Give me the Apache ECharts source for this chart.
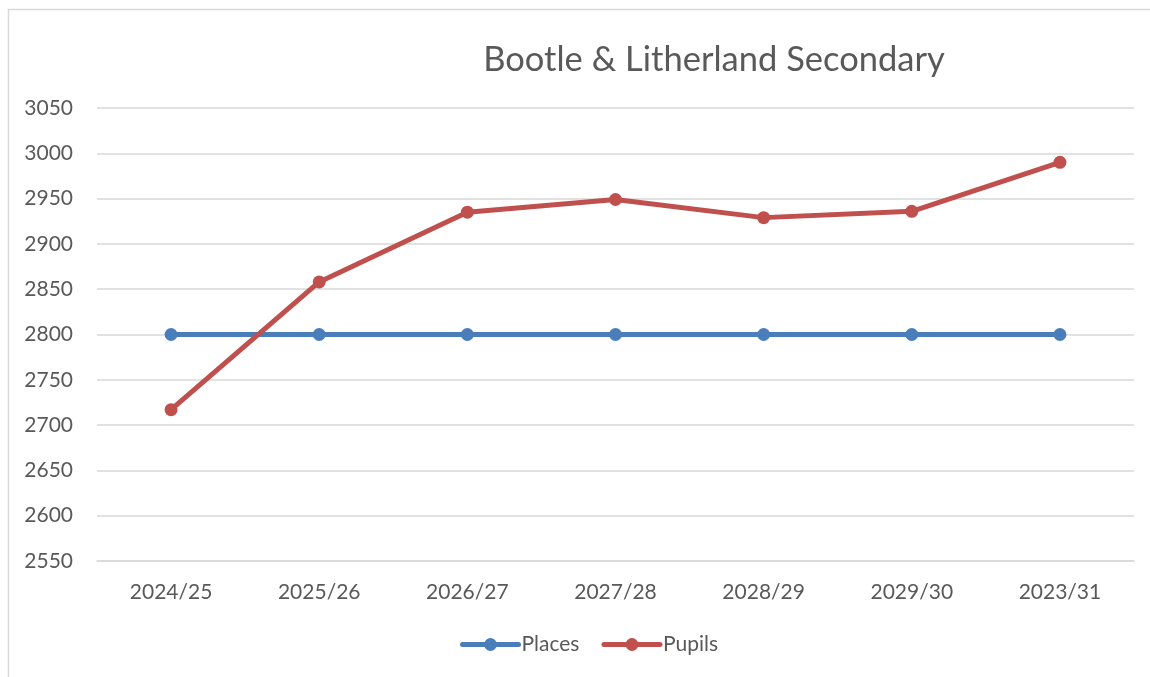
<!DOCTYPE html>
<html>
<head>
<meta charset="utf-8">
<script src="https://cdn.jsdelivr.net/npm/echarts@6/dist/echarts.min.js"></script>
<style>
  html, body { margin: 0; padding: 0; background: #fff; }
  #chart { width: 1150px; height: 677px; }
</style>
</head>
<body>
<div id="chart"></div>
<script>
  // categories (years as shown on the chart)
  var years = ['2024/25', '2025/26', '2026/27', '2027/28', '2028/29', '2029/30', '2023/31'];
  // places and pupils
  var places = [2800, 2800, 2800, 2800, 2800, 2800, 2800];
  var pupils = [2717, 2858, 2935, 2949, 2929, 2936, 2990];

  var fontName = 'Lato';
  var textColor = '#595959';

  var myChart = echarts.init(document.getElementById('chart'));

  var option = {
    backgroundColor: '#fff',
    animation: false,
    title: {
      text: 'Bootle & Litherland Secondary',
      left: 709,
      textAlign: 'center',
      top: 37,
      textStyle: {
        fontFamily: fontName,
        fontSize: 34.5,
        fontWeight: 'normal',
        color: textColor
      }
    },
    graphic: [
      {
        type: 'rect',
        shape: { x: 8.5, y: 9.5, width: 1200, height: 720 },
        style: { fill: 'none', stroke: '#d9d9d9', lineWidth: 1.5 },
        silent: true
      }
    ],
    legend: {
      bottom: 17,
      left: 455,
      itemWidth: 56,
      itemHeight: 16,
      itemGap: 22,
      data: ['Places', 'Pupils'],
      lineStyle: { width: 5, cap: 'round' },
      textStyle: {
        fontFamily: fontName,
        fontSize: 21,
        color: textColor,
        padding: [0, 0, 0, -2]
      }
    },
    grid: {
      left: 97,
      right: 16,
      top: 108,
      bottom: 116
    },
    xAxis: {
      type: 'category',
      data: years,
      boundaryGap: true,
      axisLine: { lineStyle: { color: '#d9d9d9', width: 1.5 } },
      axisTick: { show: false },
      axisLabel: {
        margin: 21,
        fontFamily: fontName,
        fontSize: 21,
        color: textColor
      }
    },
    yAxis: {
      type: 'value',
      min: 2550,
      max: 3050,
      interval: 50,
      axisLine: { show: false },
      axisTick: { show: false },
      splitLine: { lineStyle: { color: '#d9d9d9', width: 1.5 } },
      axisLabel: {
        margin: 24,
        fontFamily: fontName,
        fontSize: 21,
        color: textColor,
        formatter: function (v) { return String(v); }
      }
    },
    series: [
      {
        name: 'Places',
        type: 'line',
        data: places,
        symbol: 'circle',
        symbolSize: 13,
        lineStyle: { width: 5, color: '#4a7ebb' },
        itemStyle: { color: '#4a7ebb' }
      },
      {
        name: 'Pupils',
        type: 'line',
        data: pupils,
        symbol: 'circle',
        symbolSize: 13,
        lineStyle: { width: 5, color: '#c0504d' },
        itemStyle: { color: '#c0504d' }
      }
    ]
  };

  myChart.setOption(option);
</script>
</body>
</html>
